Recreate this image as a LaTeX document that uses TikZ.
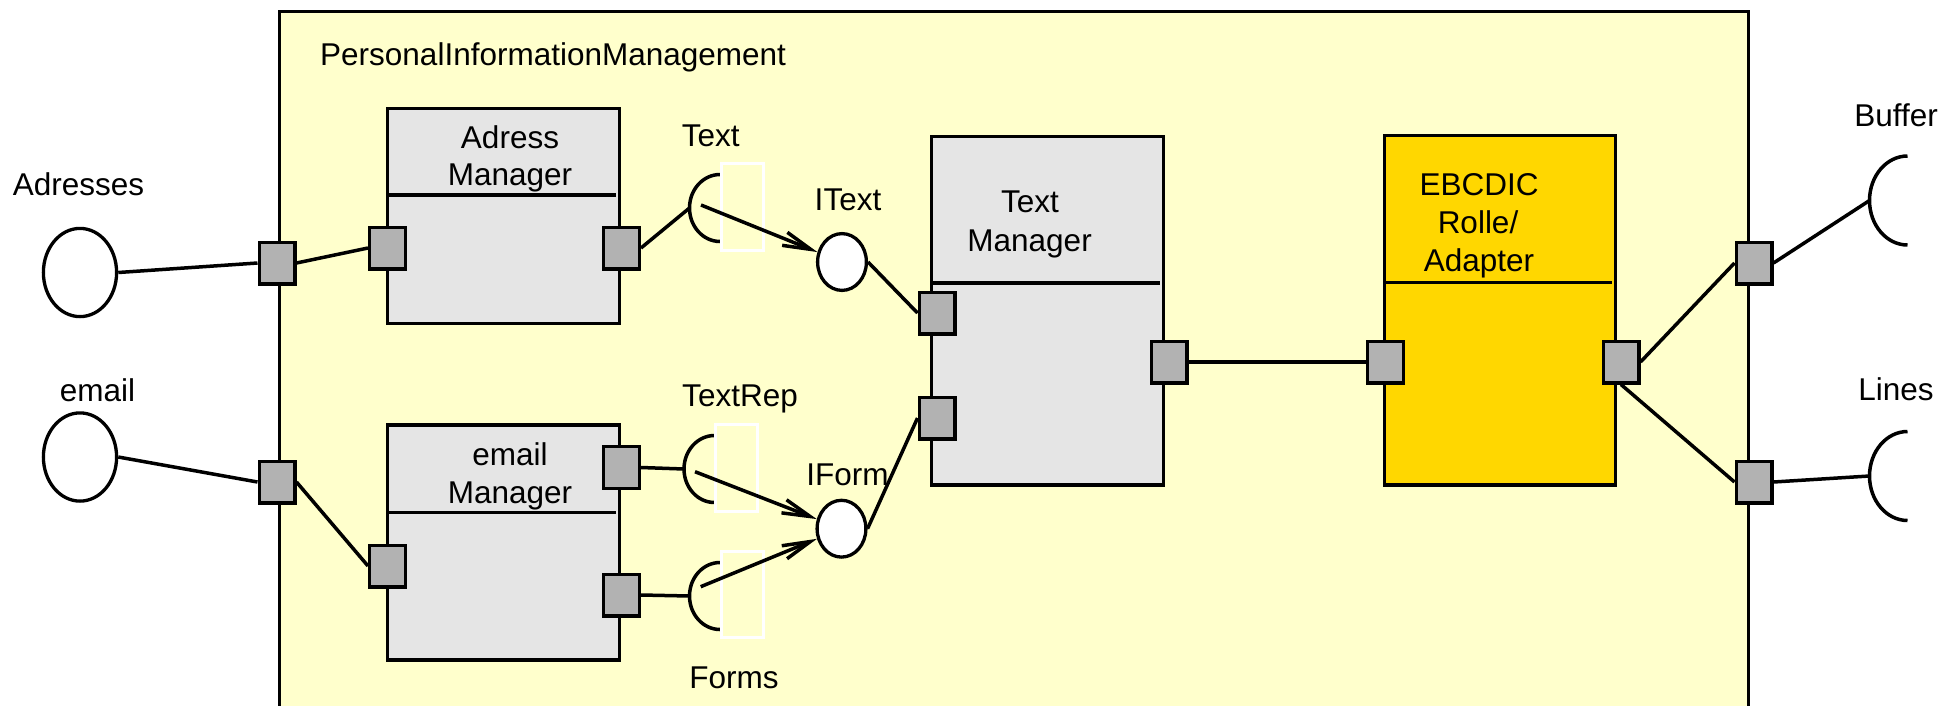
\documentclass[tikz,border=0pt]{standalone}
\usepackage{fontspec}
\setmainfont{Liberation Sans}
\usetikzlibrary{shapes.geometric,arrows.meta}
\definecolor{pimyellow}{HTML}{FFFFCC}
\definecolor{boxgray}{HTML}{E5E5E5}
\definecolor{portgray}{HTML}{B2B2B2}
\definecolor{adaptgold}{HTML}{FFD700}
\begin{document}
\begin{tikzpicture}[x=1pt,y=-1pt,
  font=\fontsize{31.5}{37.5}\selectfont,
  pimframe/.style={draw=black,line width=3.3pt,fill=pimyellow,rectangle,anchor=north west,minimum width=1469pt,minimum height=800pt,inner sep=0pt},
  compbox/.style={draw=black,line width=3.3pt,fill=boxgray,rectangle,inner sep=0pt},
  portbox/.style={draw=black,line width=3.3pt,fill=portgray,rectangle,minimum width=35.7pt,minimum height=41.7pt,inner sep=0pt},
  ifcirc/.style={draw=black,line width=3.3pt,fill=white,ellipse,inner sep=0pt},
  conn/.style={draw=black,line width=3.5pt},
  sockarc/.style={draw=black,line width=3.5pt},
  divider/.style={draw=black,line width=3.3pt},
  whitebox/.style={draw=white,line width=3pt,rectangle,minimum width=42pt,minimum height=86.5pt,inner sep=0pt},
  lbl/.style={anchor=base,inner sep=0pt},
  flow/.style={draw=black,line width=3.5pt,-{Straight Barb[length=28pt,width=14pt,line width=3.5pt]}}
]
\useasboundingbox (0,0) rectangle (1957,705);
\clip (0,0) rectangle (1957,705);

% package frame
\node[pimframe] (pim) at (278,9.5) {};
\node[lbl,anchor=base west] (pimtitle) at (320,65) {PersonalInformationManagement};

% components
\node[compbox,minimum width=231.7pt,minimum height=215.2pt] (am) at (503.5,216) {};
\node[compbox,minimum width=231.7pt,minimum height=235.2pt] (em) at (503.5,542.5) {};
\node[compbox,minimum width=232.2pt,minimum height=348.7pt] (tm) at (1047.5,310.5) {};
\node[compbox,fill=adaptgold,minimum width=231.2pt,minimum height=349.7pt] (eb) at (1500,310) {};

\draw[divider] (387.5,195) -- (615.5,195);
\draw[divider] (387.5,512.5) -- (615.5,512.5);
\draw[divider] (931.5,283) -- (1159.5,283);
\draw[divider] (1384,282.7) -- (1612,282.7);

\node[lbl] (amt1) at (510,148.3) {Adress};
\node[lbl] (amt2) at (510,185.7) {Manager};
\node[lbl] (emt1) at (510,465) {email};
\node[lbl] (emt2) at (510,503.3) {Manager};
\node[lbl] (tmt1) at (1030,212.9) {Text};
\node[lbl] (tmt2) at (1029.6,251.2) {Manager};
\node[lbl] (ebt1) at (1479,195) {EBCDIC};
\node[lbl] (ebt2) at (1478,233.3) {Rolle/};
\node[lbl] (ebt3) at (1479,271.7) {Adapter};

% outer labels
\node[lbl] (lAdr) at (78.5,195) {Adresses};
\node[lbl] (lEmail) at (97.5,401.7) {email};
\node[lbl] (lText) at (710.7,146.7) {Text};
\node[lbl] (lIText) at (848,210) {IText};
\node[lbl] (lTextRep) at (740,406.7) {TextRep};
\node[lbl] (lIForm) at (847.5,485) {IForm};
\node[lbl] (lForms) at (734,688.3) {Forms};
\node[lbl] (lBuffer) at (1896,126.7) {Buffer};
\node[lbl] (lLines) at (1896,400) {Lines};

% interface circles
\node[ifcirc,minimum width=73.2pt,minimum height=88.2pt] (ellA) at (80,272.5) {};
\node[ifcirc,minimum width=73.2pt,minimum height=88.2pt] (ellE) at (80,457) {};
\node[ifcirc,minimum width=48.8pt,minimum height=56.8pt] (itext) at (842,262) {};
\node[ifcirc,minimum width=48.8pt,minimum height=56.8pt] (iform) at (841.5,528.7) {};

% ports
\node[portbox] (fpA) at (277,263) {};
\node[portbox] (fpE) at (277,482) {};
\node[portbox] (amL) at (387.5,248) {};
\node[portbox] (amR) at (621.5,248) {};
\node[portbox] (emL) at (387.5,566) {};
\node[portbox] (emR1) at (621.5,467.5) {};
\node[portbox] (emR2) at (621.5,595) {};
\node[portbox] (tmL1) at (937,313) {};
\node[portbox] (tmL2) at (937,418) {};
\node[portbox] (tmR) at (1169,362) {};
\node[portbox] (ebL) at (1385.5,362) {};
\node[portbox] (ebR) at (1621,362) {};
\node[portbox] (fpB) at (1754,263) {};
\node[portbox] (fpL) at (1754,482) {};

% socket points
\coordinate (sText) at (689.5,208);
\coordinate (sTR) at (684,469);
\coordinate (sF) at (689.5,596);
\coordinate (sB) at (1869.5,200.5);
\coordinate (sL) at (1869.5,476);
\coordinate (aText) at (701,205);
\coordinate (aTR) at (695,471.7);
\coordinate (aF) at (700.7,586.7);

% connectors
\draw[conn] (ellA.east) -- (fpA.west);
\draw[conn] (fpA.east) -- (amL.west);
\draw[conn] (ellE.east) -- (fpE.west);
\draw[conn] (fpE.east) -- (emL.west);
\draw[conn] (amR.east) -- (sText);
\draw[conn] (emR1.east) -- (sTR);
\draw[conn] (emR2.east) -- (sF);
\draw[conn] (itext.east) -- (tmL1.west);
\draw[conn] (iform.east) -- (tmL2.west);
\draw[conn] (tmR.east) -- (ebL.west);
\draw[conn] (ebR.east) -- (fpB.west);
\draw[conn] (ebR.south) -- (fpL.west);
\draw[conn] (fpB.east) -- (sB);
\draw[conn] (fpL.east) -- (sL);

% sockets
\draw[sockarc] (720,174.5) arc[start angle=90,end angle=270,x radius=30.5pt,y radius=33.5pt];
\draw[sockarc] (714.5,435.5) arc[start angle=90,end angle=270,x radius=30.5pt,y radius=33.5pt];
\draw[sockarc] (720,562.5) arc[start angle=90,end angle=270,x radius=30.5pt,y radius=33.5pt];
\draw[sockarc] (1907.5,156) arc[start angle=90,end angle=270,x radius=38pt,y radius=44.5pt];
\draw[sockarc] (1907.5,431.5) arc[start angle=90,end angle=270,x radius=38pt,y radius=44.5pt];

\node[whitebox] (wbText) at (742.5,207) {};
\node[whitebox] (wbTR) at (736.5,468) {};
\node[whitebox] (wbF) at (742.5,594.7) {};

% dependency arrows
\draw[flow] (aText) -- (itext);
\draw[flow] (aTR) -- (iform);
\draw[flow] (aF) -- (iform);
\end{tikzpicture}
\end{document}
